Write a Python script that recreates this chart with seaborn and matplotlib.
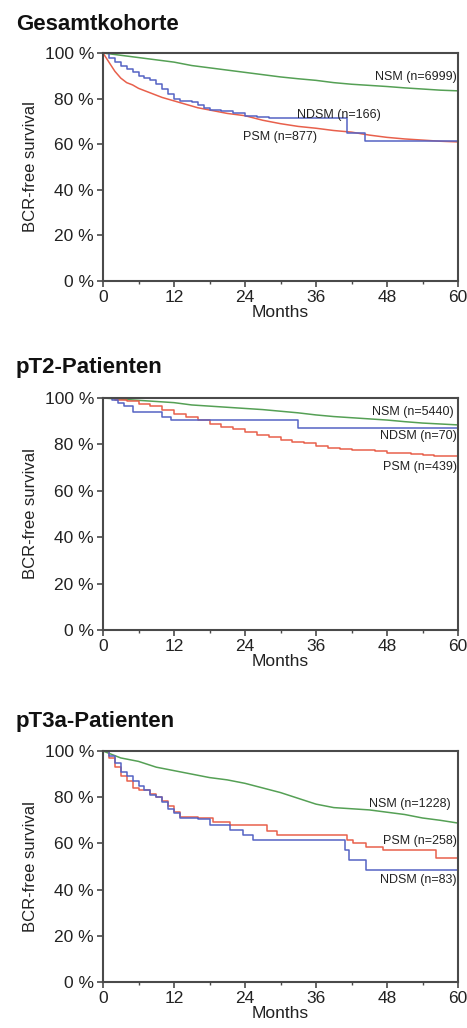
import matplotlib
matplotlib.use("Agg")
import matplotlib.pyplot as plt
from matplotlib.ticker import MultipleLocator, FuncFormatter
import pandas as pd
import seaborn as sns

sns.set_theme(style="ticks")
plt.rcParams["font.family"] = ["Liberation Sans", "DejaVu Sans"]

GREEN = "#55a055"
RED = "#e8604c"
BLUE = "#5563c4"

# Gesamtkohorte
p1_nsm_t = [0, 3, 6, 9, 12, 15, 18, 21, 24, 27, 30, 33, 36, 39, 42, 45, 48, 51, 54, 57, 60]
p1_nsm_s = [100, 99, 98, 97, 96, 94.5, 93.5, 92.5, 91.5, 90.5, 89.5, 88.7, 88, 87, 86.3, 85.8, 85.3, 84.7, 84.2, 83.7, 83.4]
p1_psm_t = [0, 1, 2, 3, 4, 5, 6, 8, 10, 12, 14, 16, 18, 21, 24, 27, 30, 33, 36, 39, 42, 45, 48, 51, 54, 57, 60]
p1_psm_s = [100, 96, 92, 89, 87, 86, 84.5, 82.5, 80.5, 79, 77.5, 76, 75, 73.5, 72.5, 70.5, 69, 67.8, 67, 66, 65.3, 64, 63, 62.3, 61.8, 61.3, 61]
p1_ndsm_t = [0, 1, 2, 3, 4, 5, 6, 7, 8, 9, 10, 11, 12, 13, 15, 16, 17, 18, 20, 22, 24, 26, 28, 41.2, 44.3, 60]
p1_ndsm_s = [100, 98, 96, 94.5, 93, 91.5, 90, 89, 88, 86.5, 84, 82, 80, 79, 78.5, 77, 76, 75, 74.5, 73.5, 72.5, 72, 71.5, 65, 61.5, 61.5]

# pT2-Patienten
p2_nsm_t = [0, 3, 6, 9, 12, 15, 18, 21, 24, 27, 30, 33, 36, 39, 42, 45, 48, 51, 54, 57, 60]
p2_nsm_s = [100, 99.5, 99, 98.5, 98, 97, 96.5, 96, 95.5, 95, 94.3, 93.6, 92.7, 92, 91.5, 91, 90.5, 89.8, 89.2, 88.8, 88.4]
p2_psm_t = [0, 2, 4, 6, 8, 10, 12, 14, 16, 18, 20, 22, 24, 26, 28, 30, 32, 34, 36, 38, 40, 42, 44, 46, 48, 50, 52, 54, 56, 58, 60]
p2_psm_s = [100, 99, 98.5, 97.5, 96.5, 95, 93, 92, 90.5, 89, 87.5, 86.5, 85.5, 84, 83, 82, 81, 80.5, 79.5, 78.5, 78, 77.5, 77.5, 77, 76.5, 76.5, 76, 75.5, 75, 75, 75]
p2_ndsm_t = [0, 1.5, 2.5, 3.5, 5, 10, 11.5, 33, 60]
p2_ndsm_s = [100, 99, 98, 96.5, 94, 92, 90.5, 87, 87]

# pT3a-Patienten
p3_nsm_t = [0, 3, 6, 9, 12, 15, 18, 21, 24, 27, 30, 33, 36, 39, 42, 45, 48, 51, 54, 57, 60]
p3_nsm_s = [100, 97, 95.5, 93, 91.5, 90, 88.5, 87.5, 86, 84, 82, 79.5, 77, 75.5, 75, 74.5, 73.5, 72.5, 71, 70, 68.8]
p3_psm_t = [0, 1, 2, 3, 4, 5, 6, 8, 9, 10, 11, 12, 13, 16, 18.6, 21.5, 27.7, 29.4, 41.2, 42.3, 44.5, 47.4, 56.2, 60]
p3_psm_s = [100, 97, 93, 89, 87, 84, 83, 81.5, 80, 78.5, 76, 73.5, 71.5, 71, 69.4, 68, 65.4, 63.6, 61.4, 60, 58.6, 57.1, 53.7, 53.7]
p3_ndsm_t = [0, 1, 2, 3, 4, 5, 6, 7, 8, 9, 10, 11, 12, 13, 16, 18, 21.5, 23.7, 25.4, 40.9, 41.5, 44.5, 60]
p3_ndsm_s = [100, 98, 95, 91, 89, 87, 85, 83, 81, 80, 78, 75, 73, 71, 70.5, 68, 65.8, 63.6, 61.4, 57, 52.8, 48.5, 48.5]

# (label, months, survival, colour, drawn as steps?)
panels = [
    {
        "title": "Gesamtkohorte",
        "series": [
            ("NSM", p1_nsm_t, p1_nsm_s, GREEN, False),
            ("PSM", p1_psm_t, p1_psm_s, RED, False),
            ("NDSM", p1_ndsm_t, p1_ndsm_s, BLUE, True),
        ],
        "labels": [
            ("NSM (n=6999)", 59.8, 89.5, "right"),
            ("NDSM (n=166)", 32.8, 72.8, "left"),
            ("PSM (n=877)", 23.7, 63.2, "left"),
        ],
    },
    {
        "title": "pT2-Patienten",
        "series": [
            ("NSM", p2_nsm_t, p2_nsm_s, GREEN, False),
            ("PSM", p2_psm_t, p2_psm_s, RED, True),
            ("NDSM", p2_ndsm_t, p2_ndsm_s, BLUE, True),
        ],
        "labels": [
            ("NSM (n=5440)", 59.2, 94.1, "right"),
            ("NDSM (n=70)", 59.8, 83.6, "right"),
            ("PSM (n=439)", 59.8, 70.4, "right"),
        ],
    },
    {
        "title": "pT3a-Patienten",
        "series": [
            ("NSM", p3_nsm_t, p3_nsm_s, GREEN, False),
            ("PSM", p3_psm_t, p3_psm_s, RED, True),
            ("NDSM", p3_ndsm_t, p3_ndsm_s, BLUE, True),
        ],
        "labels": [
            ("NSM (n=1228)", 58.8, 76.9, "right"),
            ("PSM (n=258)", 59.8, 61.0, "right"),
            ("NDSM (n=83)", 59.8, 44.2, "right"),
        ],
    },
]

W, H = 467, 1028
fig = plt.figure(figsize=(W / 100, H / 100), dpi=100)

# plot area (top, bottom) in pixels, plus the title centre
boxes = [(53, 281, 24), (398, 630, 367), (751, 982, 722)]
left_px, right_px = 103, 458
spine_col = "#4a4a4a"

for panel, (top, bottom, title_y) in zip(panels, boxes):
    ax = fig.add_axes([left_px / W, 1 - bottom / H, (right_px - left_px) / W, (bottom - top) / H])
    for name, t, s, col, steps in panel["series"]:
        df = pd.DataFrame({"month": t, "surv": s})
        sns.lineplot(data=df, x="month", y="surv", ax=ax, color=col, linewidth=1.1,
                     drawstyle="steps-post" if steps else "default",
                     estimator=None, sort=False)
    for txt, x, y, ha in panel["labels"]:
        ax.text(x, y, txt, ha=ha, va="center", fontsize=9, color="#222222")

    ax.set_xlim(0, 60)
    ax.set_ylim(0, 100)
    ax.xaxis.set_major_locator(MultipleLocator(12))
    ax.xaxis.set_minor_locator(MultipleLocator(6))
    ax.yaxis.set_major_locator(MultipleLocator(20))
    ax.yaxis.set_major_formatter(FuncFormatter(lambda v, p: f"{v:.0f} %"))
    ax.set_xlabel("Months", fontsize=12.5, labelpad=0, color="#222222")
    ax.set_ylabel("BCR-free survival", fontsize=12, labelpad=5, color="#222222")
    ax.tick_params(axis="both", which="major", length=4.5, width=1.2, color=spine_col,
                   labelsize=12.5, labelcolor="#222222", pad=2)
    ax.tick_params(axis="x", which="minor", length=2.5, width=1.0, color=spine_col)
    for sp in ax.spines.values():
        sp.set_visible(True)
        sp.set_color(spine_col)
        sp.set_linewidth(1.5)

    fig.text(16 / W, 1 - title_y / H, panel["title"], fontsize=16, fontweight="bold",
             ha="left", va="center", color="#111111")

fig.savefig("out.png", dpi=100)
